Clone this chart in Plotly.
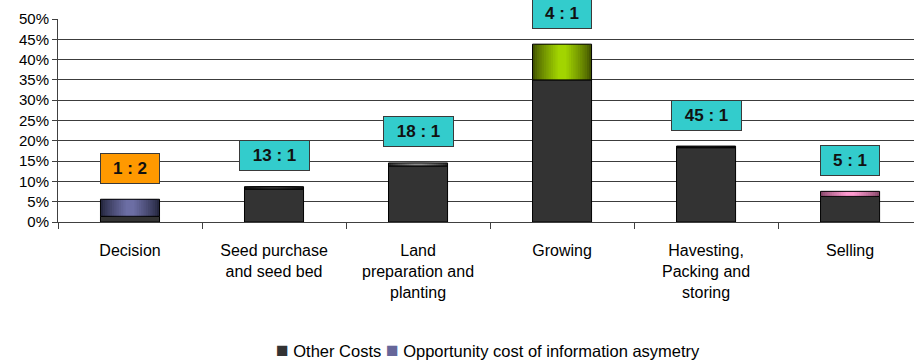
import plotly.graph_objects as go

# Share of total cost per stage of the production chain (percent)
stages = ["Decision", "Seed purchase<br>and seed bed", "Land<br>preparation and<br>planting",
          "Growing", "Havesting,<br>Packing and<br>storing", "Selling"]
other_costs = [1.4, 8.1, 13.8, 35.0, 18.3, 6.3]
opportunity_cost = [4.2, 0.6, 0.75, 8.8, 0.4, 1.25]
ratio_labels = ["1 : 2", "13 : 1", "18 : 1", "4 : 1", "45 : 1", "5 : 1"]

y_ticks = list(range(0, 55, 5))
y_tick_text = [f"{v}%" for v in y_ticks]

# Cylinder-style shading for the opportunity segment: edge colour -> centre colour
opp_edge = ["#24263e", "#111111", "#2a2a2a", "#425400", "#0c0c0c", "#8a4a6c"]
opp_center = ["#6c6ea4", "#3a3a3a", "#8a8a8a", "#a2d400", "#2a2a2a", "#ff9ad0"]
label_fills = ["#ff9900", "#33cccc", "#33cccc", "#33cccc", "#33cccc", "#33cccc"]

FONT = "Liberation Sans, Arial, sans-serif"
BAR_W = 0.41


def mix(c1, c2, t):
    a = [int(c1[i:i + 2], 16) for i in (1, 3, 5)]
    b = [int(c2[i:i + 2], 16) for i in (1, 3, 5)]
    return "#" + "".join(f"{round(x + (y - x) * t):02x}" for x, y in zip(a, b))


fig = go.Figure()
fig.add_trace(go.Bar(
    x=stages, y=other_costs, name="Other Costs",
    marker=dict(color="#333333", line=dict(color="#000000", width=1)),
    width=BAR_W,
))
fig.add_trace(go.Bar(
    x=stages, y=opportunity_cost, base=other_costs,
    name="Opportunity cost of information asymetry",
    marker=dict(color=opp_edge, line=dict(width=0)),
    width=BAR_W,
))
layers = 12
for k in range(1, layers):
    t = k / (layers - 1)
    fig.add_trace(go.Bar(
        x=stages, y=opportunity_cost, base=other_costs,
        marker=dict(color=[mix(e, c, t ** 0.8) for e, c in zip(opp_edge, opp_center)],
                    line=dict(width=0)),
        width=BAR_W * (1 - 0.85 * t), showlegend=False, hoverinfo="skip",
    ))
# Outline drawn over the shaded segment
fig.add_trace(go.Bar(
    x=stages, y=opportunity_cost, base=other_costs,
    marker=dict(color="rgba(0,0,0,0)", line=dict(color="#000000", width=1)),
    width=BAR_W, showlegend=False, hoverinfo="skip",
))

# Ratio boxes placed a fixed distance above each bar
for stage, oc, op, text, fill in zip(stages, other_costs, opportunity_cost, ratio_labels, label_fills):
    digits = sum(ch.isdigit() for ch in text)
    fig.add_annotation(
        x=stage, y=oc + op, yref="y", xref="x",
        text="<b>" + text + "</b>", showarrow=False,
        yanchor="middle", yshift=31,
        font=dict(family=FONT, size=17, color="#111111"),
        bgcolor=fill, bordercolor="#3a3a3a", borderwidth=1, borderpad=3,
        width=11 * digits + 30, height=23,
    )

# Legend row under the chart
legend_items = [("#333333", "Other Costs"), ("#666699", "Opportunity cost of information asymetry")]
legend_text = " ".join(
    f"<span style='color:{c};font-size:21px'>■</span> {name}" for c, name in legend_items
)
fig.add_annotation(
    x=0.502, y=-0.63, xref="paper", yref="paper", xanchor="center", yanchor="middle",
    text=legend_text, showarrow=False, font=dict(family=FONT, size=16.5, color="#000000"),
)

fig.update_layout(
    barmode="overlay",
    width=914, height=363,
    margin=dict(l=58, r=0, t=19, b=141),
    paper_bgcolor="#ffffff", plot_bgcolor="#ffffff",
    font=dict(family=FONT, size=16, color="#000000"),
    showlegend=False,
)
fig.update_xaxes(
    range=[-0.5, 5.444], type="category",
    showline=True, linecolor="#404040", linewidth=1,
    ticks="outside", ticklen=6, tickcolor="#404040", tickson="boundaries",
    showgrid=False, tickfont=dict(family=FONT, size=16), ticklabelstandoff=14,
)
fig.update_yaxes(
    range=[0, 50], tickvals=y_ticks, ticktext=y_tick_text,
    showline=True, linecolor="#404040", linewidth=1,
    ticks="outside", ticklen=5, tickcolor="#404040",
    showgrid=True, gridcolor="#3c3c3c", gridwidth=1, zeroline=False,
    tickfont=dict(family=FONT, size=15),
)

fig.write_html("out.html")
